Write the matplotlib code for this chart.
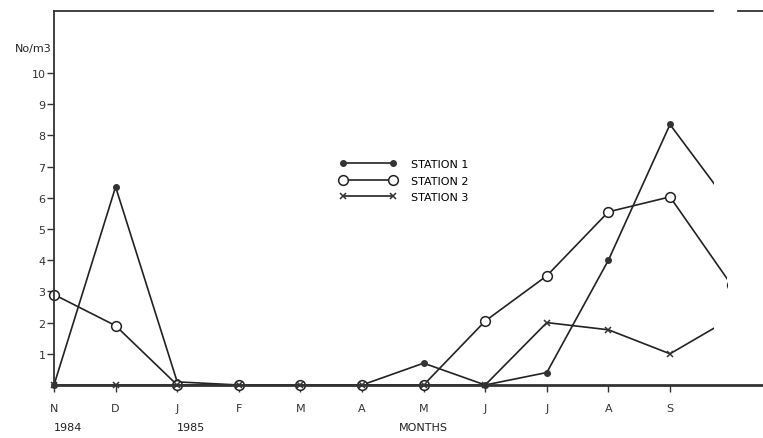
import matplotlib.pyplot as plt
from matplotlib.patches import Rectangle

months = ['N', 'D', 'J', 'F', 'M', 'A', 'M', 'J', 'J', 'A', 'S', 'O']
station1 = [0, 6.35, 0.1, 0, 0, 0, 0.7, 0, 0.4, 4.0, 8.35, 5.7]
station2 = [2.9, 1.9, 0, 0, 0, 0, 0, 2.05, 3.5, 5.55, 6.03, 3.2]
station3 = [0, 0, 0, 0, 0, 0, 0, 0, 2.0, 1.77, 1.0, 2.15]
# the paper is cut off during October
cut = [10.71, 10.93, 10.71]

fig = plt.figure(figsize=(7.63, 4.39), dpi=100)
ax = fig.add_axes([54 / 763, 53 / 439, 709 / 763, 374 / 439])

x = list(range(len(months)))
styles = [
    dict(marker='o', markersize=4, markerfacecolor='#333333', markeredgecolor='#333333', label='STATION 1'),
    dict(marker='o', markersize=7, markerfacecolor='white', markeredgecolor='#222222', markeredgewidth=1.1, label='STATION 2'),
    dict(marker='x', markersize=4.5, markeredgecolor='#333333', markeredgewidth=1.1, label='STATION 3'),
]
for vals, st, c in zip([station1, station2, station3], styles, cut):
    ln, = ax.plot(x, vals, color='#222222', linewidth=1.2, **st)
    ln.set_clip_path(Rectangle((-1, -1), c + 1, 14, transform=ax.transData))

ax.set_xlim(0, 709 / 61.6)
ax.set_ylim(0, 374 / 31.2)

ax.spines['right'].set_visible(False)
ax.spines['top'].set_visible(False)
ax.spines['left'].set_linewidth(1.3)
ax.spines['bottom'].set_linewidth(2.0)
ax.spines['left'].set_color('#333333')
ax.spines['bottom'].set_color('#333333')
# torn top edge
ax.plot([0, 659 / 709], [1, 1], transform=ax.transAxes, color='#333333', lw=1.3, clip_on=False)
ax.plot([684 / 709, 1], [1, 1], transform=ax.transAxes, color='#333333', lw=1.3, clip_on=False)

ax.set_yticks(range(1, 11))
ax.set_yticklabels([str(i) for i in range(1, 11)], fontsize=8, color='#222222')
ax.set_xticks(x[:11])
ax.set_xticklabels(months[:11], fontsize=8, color='#222222')
ax.tick_params(axis='y', direction='out', length=5, width=1, pad=1, colors='#333333')
ax.tick_params(axis='x', direction='out', length=5, width=1, pad=8, colors='#333333')

ax.text(-0.04, 10.8, 'No/m3', fontsize=8, ha='right', va='center', color='#222222')
ax.text(0, -1.35, '1984', fontsize=8, ha='left', va='center', color='#222222')
ax.text(2, -1.35, '1985', fontsize=8, ha='left', va='center', color='#222222')
ax.text(6, -1.35, 'MONTHS', fontsize=8, ha='center', va='center', color='#222222')

ax.legend(numpoints=2, handlelength=5.1, handletextpad=1.3, labelspacing=0.6,
          frameon=False, fontsize=8, loc='upper left', borderpad=0, borderaxespad=0,
          bbox_to_anchor=(340 / 763, 1 - 160 / 439), bbox_transform=fig.transFigure)

fig.savefig('out.png', dpi=100)
